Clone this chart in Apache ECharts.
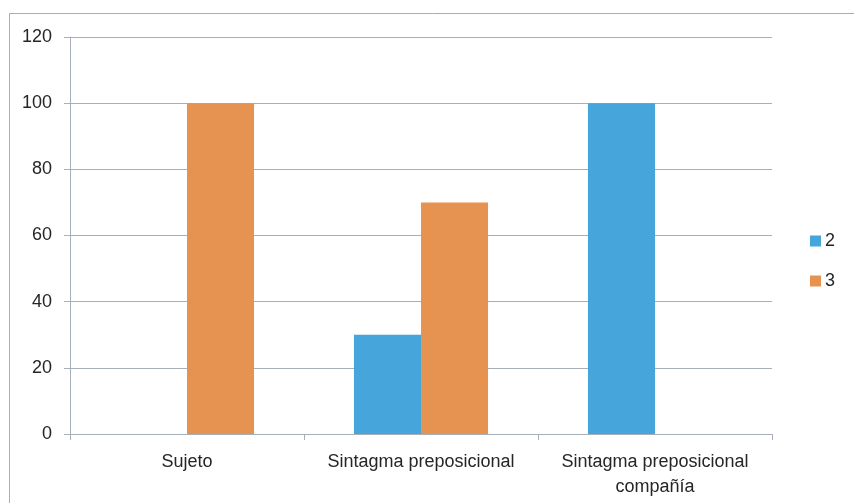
<!DOCTYPE html>
<html>
<head>
<meta charset="utf-8">
<script src="https://cdn.jsdelivr.net/npm/echarts@6/dist/echarts.min.js"></script>
<style>
  html, body { margin: 0; padding: 0; background: #fff; }
  #chart { width: 854px; height: 503px; }
</style>
</head>
<body>
<div id="chart"></div>
<script>
// Categories along the x axis
const categories = ['Sujeto', 'Sintagma preposicional', 'Sintagma preposicional\ncompañía'];
// Series names and values (percent)
const seriesNames = ['2', '3'];
const values2 = [0, 30, 100];
const values3 = [100, 70, 0];
// Y axis range
const yMin = 0;
const yMax = 120;
const yStep = 20;

const gridColor = '#A7AFB8';
const textColor = '#262626';
const font = 'Liberation Sans, Arial, sans-serif';

const chart = echarts.init(document.getElementById('chart'), null, { renderer: 'canvas' });

chart.setOption({
  animation: false,
  backgroundColor: '#ffffff',
  color: ['#46A5DB', '#E69250'],
  graphic: [{
    type: 'rect',
    left: 7, top: 11,
    shape: { width: 860, height: 510 },
    style: { fill: 'none', stroke: '#A9ADB3', lineWidth: 1 },
    silent: true
  }],
  grid: { left: 70, right: 82, top: 37, bottom: 69, containLabel: false },
  legend: {
    orient: 'vertical',
    left: 805,
    top: 227,
    padding: 5,
    itemWidth: 11,
    itemHeight: 11,
    itemGap: 22,
    icon: 'rect',
    textStyle: { fontFamily: font, fontSize: 18, color: textColor, padding: [0, 0, 0, -1] },
    data: seriesNames
  },
  xAxis: {
    type: 'category',
    data: categories,
    axisLine: { lineStyle: { color: gridColor, width: 1 } },
    axisTick: { show: true, length: 6, alignWithLabel: false, lineStyle: { color: gridColor } },
    axisLabel: {
      margin: 16,
      fontFamily: font, fontSize: 18, color: textColor, lineHeight: 25,
      align: 'center', interval: 0
    }
  },
  yAxis: {
    type: 'value',
    min: yMin, max: yMax, interval: yStep,
    axisLine: { show: true, lineStyle: { color: gridColor, width: 1 } },
    axisTick: { show: true, length: 6, lineStyle: { color: gridColor } },
    splitLine: { lineStyle: { color: gridColor, width: 1 } },
    axisLabel: { margin: 18, fontFamily: font, fontSize: 18, color: textColor }
  },
  series: [
    { name: seriesNames[0], type: 'bar', data: values2, barGap: '0%', barCategoryGap: '42.7%' },
    { name: seriesNames[1], type: 'bar', data: values3, barGap: '0%', barCategoryGap: '42.7%' }
  ]
});
</script>
</body>
</html>
